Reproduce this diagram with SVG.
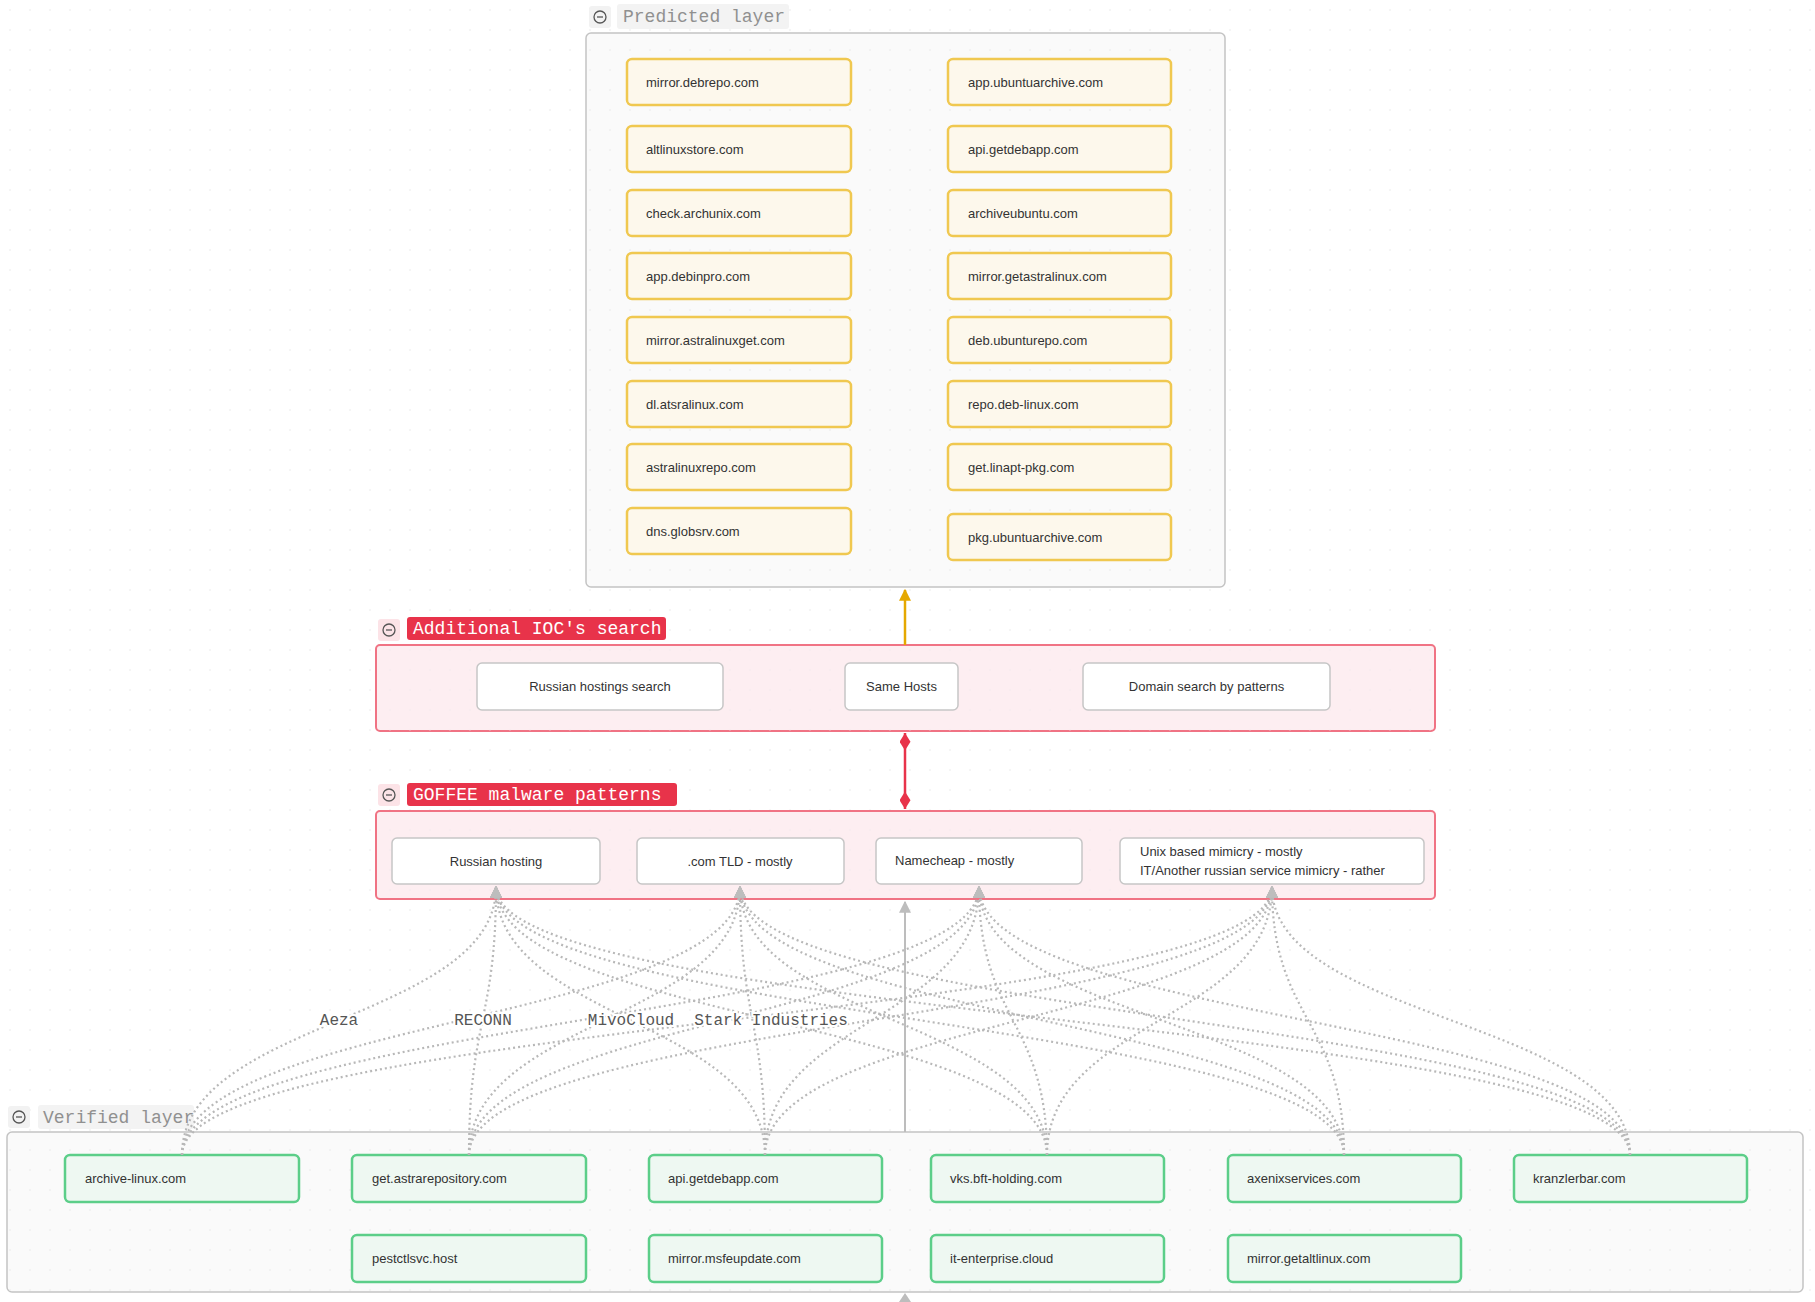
<svg xmlns="http://www.w3.org/2000/svg" width="1815" height="1302" viewBox="0 0 1815 1302">
<style>
.grp{fill:#fafafa;stroke:#c4c4c4;stroke-width:1.5}
.grpr{fill:#fdeef1;stroke:#f07384;stroke-width:2}
.pn{fill:#fdf8ec;stroke:#f0c850;stroke-width:2.5}
.vn{fill:#eef8f2;stroke:#5cce89;stroke-width:2.5}
.wn{fill:#ffffff;stroke:#c6c6c6;stroke-width:1.5}
.t{font-family:"Liberation Sans",Arial,sans-serif;font-size:13px;fill:#333}
.tc{font-family:"Liberation Sans",Arial,sans-serif;font-size:13px;fill:#333;text-anchor:middle}
.hdr{font-family:"Liberation Mono","Courier New",monospace;font-size:18px}
.lbl{font-family:"Liberation Mono","Courier New",monospace;font-size:16px;fill:#555;text-anchor:middle;paint-order:stroke;stroke:#fff;stroke-width:4px}
.dot{fill:none;stroke:#b8b8b8;stroke-width:2.2;stroke-dasharray:2 3}
.ico{fill:none;stroke:#555;stroke-width:1.3}
</style>
<defs>
<pattern id="grid" width="20" height="20" patternUnits="userSpaceOnUse"><circle cx="10" cy="10" r="0.8" fill="#e9e9e9"/></pattern>
<marker id="ag" viewBox="0 0 10 10" refX="9" refY="5" markerWidth="12" markerHeight="12" markerUnits="userSpaceOnUse" orient="auto"><path d="M0,0 L10,5 L0,10 z" fill="#bdbdbd"/></marker>
<marker id="ao" viewBox="0 0 10 10" refX="9" refY="5" markerWidth="12" markerHeight="12" markerUnits="userSpaceOnUse" orient="auto"><path d="M0,0 L10,5 L0,10 z" fill="#e5a800"/></marker>
<marker id="ds" viewBox="0 0 16 10" refX="0" refY="5" markerWidth="18" markerHeight="11" markerUnits="userSpaceOnUse" orient="auto"><path d="M0,5 L8,0 L16,5 L8,10 z" fill="#e8334a"/></marker>
<marker id="de" viewBox="0 0 16 10" refX="16" refY="5" markerWidth="18" markerHeight="11" markerUnits="userSpaceOnUse" orient="auto"><path d="M0,5 L8,0 L16,5 L8,10 z" fill="#e8334a"/></marker>
</defs>
<rect width="1815" height="1302" fill="#ffffff"/>
<rect width="1815" height="1302" fill="url(#grid)"/>

<g id="predicted-layer">
<rect class="grp" x="586" y="33" width="639" height="554" rx="5"/>
<rect x="586" y="33" width="639" height="554" rx="5" fill="url(#grid)"/>
<rect x="589" y="6" width="22" height="22" rx="3" fill="#f2f2f2"/>
<circle class="ico" cx="600" cy="17" r="6"/><line class="ico" x1="597" y1="17" x2="603" y2="17"/>
<rect x="617" y="4" width="172" height="25" rx="3" fill="#f3f3f3"/>
<text class="hdr" x="623" y="22" fill="#909090">Predicted layer</text>
</g>
<g id="p1"><rect class="pn" x="627" y="59" width="224" height="46" rx="5"/><text class="t" x="646" y="86.5">mirror.debrepo.com</text></g>
<g id="p2"><rect class="pn" x="627" y="126" width="224" height="46" rx="5"/><text class="t" x="646" y="153.5">altlinuxstore.com</text></g>
<g id="p3"><rect class="pn" x="627" y="190" width="224" height="46" rx="5"/><text class="t" x="646" y="217.5">check.archunix.com</text></g>
<g id="p4"><rect class="pn" x="627" y="253" width="224" height="46" rx="5"/><text class="t" x="646" y="280.5">app.debinpro.com</text></g>
<g id="p5"><rect class="pn" x="627" y="317" width="224" height="46" rx="5"/><text class="t" x="646" y="344.5">mirror.astralinuxget.com</text></g>
<g id="p6"><rect class="pn" x="627" y="381" width="224" height="46" rx="5"/><text class="t" x="646" y="408.5">dl.atsralinux.com</text></g>
<g id="p7"><rect class="pn" x="627" y="444" width="224" height="46" rx="5"/><text class="t" x="646" y="471.5">astralinuxrepo.com</text></g>
<g id="p8"><rect class="pn" x="627" y="508" width="224" height="46" rx="5"/><text class="t" x="646" y="535.5">dns.globsrv.com</text></g>
<g id="p9"><rect class="pn" x="948" y="59" width="223" height="46" rx="5"/><text class="t" x="968" y="86.5">app.ubuntuarchive.com</text></g>
<g id="p10"><rect class="pn" x="948" y="126" width="223" height="46" rx="5"/><text class="t" x="968" y="153.5">api.getdebapp.com</text></g>
<g id="p11"><rect class="pn" x="948" y="190" width="223" height="46" rx="5"/><text class="t" x="968" y="217.5">archiveubuntu.com</text></g>
<g id="p12"><rect class="pn" x="948" y="253" width="223" height="46" rx="5"/><text class="t" x="968" y="280.5">mirror.getastralinux.com</text></g>
<g id="p13"><rect class="pn" x="948" y="317" width="223" height="46" rx="5"/><text class="t" x="968" y="344.5">deb.ubunturepo.com</text></g>
<g id="p14"><rect class="pn" x="948" y="381" width="223" height="46" rx="5"/><text class="t" x="968" y="408.5">repo.deb-linux.com</text></g>
<g id="p15"><rect class="pn" x="948" y="444" width="223" height="46" rx="5"/><text class="t" x="968" y="471.5">get.linapt-pkg.com</text></g>
<g id="p16"><rect class="pn" x="948" y="514" width="223" height="46" rx="5"/><text class="t" x="968" y="541.5">pkg.ubuntuarchive.com</text></g>

<g id="additional-ioc-search">
<rect class="grpr" x="376" y="645" width="1059" height="86" rx="4"/>
<rect x="376" y="645" width="1059" height="86" rx="4" fill="url(#grid)" opacity="0.6"/>
<rect x="378" y="619" width="22" height="22" rx="3" fill="#fce3e7"/>
<circle class="ico" cx="389" cy="630" r="6"/><line class="ico" x1="386" y1="630" x2="392" y2="630"/>
<rect x="407" y="617" width="259" height="23" rx="3" fill="#e8334a"/>
<text class="hdr" x="413" y="634" fill="#ffffff">Additional IOC's search</text>
</g>
<g id="a1"><rect class="wn" x="477" y="663" width="246" height="47" rx="5"/><text class="tc" x="600" y="691">Russian hostings search</text></g>
<g id="a2"><rect class="wn" x="845" y="663" width="113" height="47" rx="5"/><text class="tc" x="901.5" y="691">Same Hosts</text></g>
<g id="a3"><rect class="wn" x="1083" y="663" width="247" height="47" rx="5"/><text class="tc" x="1206.5" y="691">Domain search by patterns</text></g>

<g id="goffee-patterns">
<rect class="grpr" x="376" y="811" width="1059" height="88" rx="4"/>
<rect x="376" y="811" width="1059" height="88" rx="4" fill="url(#grid)" opacity="0.6"/>
<rect x="378" y="784" width="22" height="22" rx="3" fill="#fce3e7"/>
<circle class="ico" cx="389" cy="795" r="6"/><line class="ico" x1="386" y1="795" x2="392" y2="795"/>
<rect x="407" y="783" width="270" height="23" rx="3" fill="#e8334a"/>
<text class="hdr" x="413" y="800" fill="#ffffff">GOFFEE malware patterns</text>
</g>
<g id="g1"><rect class="wn" x="392" y="838" width="208" height="46" rx="5"/><text class="tc" x="496" y="866">Russian hosting</text></g>
<g id="g2"><rect class="wn" x="637" y="838" width="207" height="46" rx="5"/><text class="tc" x="740" y="866">.com TLD - mostly</text></g>
<g id="g3"><rect class="wn" x="876" y="838" width="206" height="46" rx="5"/><text class="t" x="895" y="865">Namecheap - mostly</text></g>
<g id="g4"><rect class="wn" x="1120" y="838" width="304" height="46" rx="5"/><text class="t" x="1140" y="856">Unix based mimicry - mostly</text><text class="t" x="1140" y="875">IT/Another russian service mimicry - rather</text></g>

<g id="verified-layer">
<rect class="grp" x="7" y="1132" width="1796" height="160" rx="5"/>
<rect x="7" y="1132" width="1796" height="160" rx="5" fill="url(#grid)"/>
<rect x="8" y="1106" width="22" height="22" rx="3" fill="#f2f2f2"/>
<circle class="ico" cx="19" cy="1117" r="6"/><line class="ico" x1="16" y1="1117" x2="22" y2="1117"/>
<rect x="38" y="1105" width="156" height="24" rx="3" fill="#f3f3f3"/>
<text class="hdr" x="43" y="1123" fill="#909090">Verified layer</text>
</g>
<g id="v1"><rect class="vn" x="65" y="1155" width="234" height="47" rx="5"/><text class="t" x="85" y="1183">archive-linux.com</text></g>
<g id="v2"><rect class="vn" x="352" y="1155" width="234" height="47" rx="5"/><text class="t" x="372" y="1183">get.astrarepository.com</text></g>
<g id="v3"><rect class="vn" x="649" y="1155" width="233" height="47" rx="5"/><text class="t" x="668" y="1183">api.getdebapp.com</text></g>
<g id="v4"><rect class="vn" x="931" y="1155" width="233" height="47" rx="5"/><text class="t" x="950" y="1183">vks.bft-holding.com</text></g>
<g id="v5"><rect class="vn" x="1228" y="1155" width="233" height="47" rx="5"/><text class="t" x="1247" y="1183">axenixservices.com</text></g>
<g id="v6"><rect class="vn" x="1514" y="1155" width="233" height="47" rx="5"/><text class="t" x="1533" y="1183">kranzlerbar.com</text></g>
<g id="v7"><rect class="vn" x="352" y="1235" width="234" height="47" rx="5"/><text class="t" x="372" y="1263">pestctlsvc.host</text></g>
<g id="v8"><rect class="vn" x="649" y="1235" width="233" height="47" rx="5"/><text class="t" x="668" y="1263">mirror.msfeupdate.com</text></g>
<g id="v9"><rect class="vn" x="931" y="1235" width="233" height="47" rx="5"/><text class="t" x="950" y="1263">it-enterprise.cloud</text></g>
<g id="v10"><rect class="vn" x="1228" y="1235" width="233" height="47" rx="5"/><text class="t" x="1247" y="1263">mirror.getaltlinux.com</text></g>

<g id="connectors">
<line x1="905" y1="645" x2="905" y2="590" stroke="#e5a800" stroke-width="2.5" marker-end="url(#ao)"/>
<line x1="905" y1="733" x2="905" y2="809" stroke="#e8334a" stroke-width="2.5" marker-start="url(#ds)" marker-end="url(#de)"/>
<line x1="905" y1="1132" x2="905" y2="902" stroke="#bdbdbd" stroke-width="2" marker-end="url(#ag)"/>
<polygon points="905,1293 899,1302 911,1302" fill="#bdbdbd"/>
<path class="dot" d="M182,1155 C182,1020 496,1020 496,887" marker-end="url(#ag)"/>
<path class="dot" d="M182,1155 C182,1020 740,1020 740,887" marker-end="url(#ag)"/>
<path class="dot" d="M182,1155 C182,1020 979,1020 979,887" marker-end="url(#ag)"/>
<path class="dot" d="M182,1155 C182,1020 1272,1020 1272,887" marker-end="url(#ag)"/>
<path class="dot" d="M469,1155 C469,1020 496,1020 496,887" marker-end="url(#ag)"/>
<path class="dot" d="M469,1155 C469,1020 740,1020 740,887" marker-end="url(#ag)"/>
<path class="dot" d="M469,1155 C469,1020 979,1020 979,887" marker-end="url(#ag)"/>
<path class="dot" d="M469,1155 C469,1020 1272,1020 1272,887" marker-end="url(#ag)"/>
<path class="dot" d="M765,1155 C765,1020 496,1020 496,887" marker-end="url(#ag)"/>
<path class="dot" d="M765,1155 C765,1020 740,1020 740,887" marker-end="url(#ag)"/>
<path class="dot" d="M765,1155 C765,1020 979,1020 979,887" marker-end="url(#ag)"/>
<path class="dot" d="M765,1155 C765,1020 1272,1020 1272,887" marker-end="url(#ag)"/>
<path class="dot" d="M1047,1155 C1047,1020 496,1020 496,887" marker-end="url(#ag)"/>
<path class="dot" d="M1047,1155 C1047,1020 740,1020 740,887" marker-end="url(#ag)"/>
<path class="dot" d="M1047,1155 C1047,1020 979,1020 979,887" marker-end="url(#ag)"/>
<path class="dot" d="M1047,1155 C1047,1020 1272,1020 1272,887" marker-end="url(#ag)"/>
<path class="dot" d="M1344,1155 C1344,1020 496,1020 496,887" marker-end="url(#ag)"/>
<path class="dot" d="M1344,1155 C1344,1020 740,1020 740,887" marker-end="url(#ag)"/>
<path class="dot" d="M1344,1155 C1344,1020 979,1020 979,887" marker-end="url(#ag)"/>
<path class="dot" d="M1344,1155 C1344,1020 1272,1020 1272,887" marker-end="url(#ag)"/>
<path class="dot" d="M1630,1155 C1630,1020 496,1020 496,887" marker-end="url(#ag)"/>
<path class="dot" d="M1630,1155 C1630,1020 740,1020 740,887" marker-end="url(#ag)"/>
<path class="dot" d="M1630,1155 C1630,1020 979,1020 979,887" marker-end="url(#ag)"/>
<path class="dot" d="M1630,1155 C1630,1020 1272,1020 1272,887" marker-end="url(#ag)"/>
<text class="lbl" x="339" y="1025">Aeza</text>
<text class="lbl" x="483" y="1025">RECONN</text>
<text class="lbl" x="631" y="1025">MivoCloud</text>
<text class="lbl" x="771" y="1025">Stark Industries</text>
</g>
</svg>
